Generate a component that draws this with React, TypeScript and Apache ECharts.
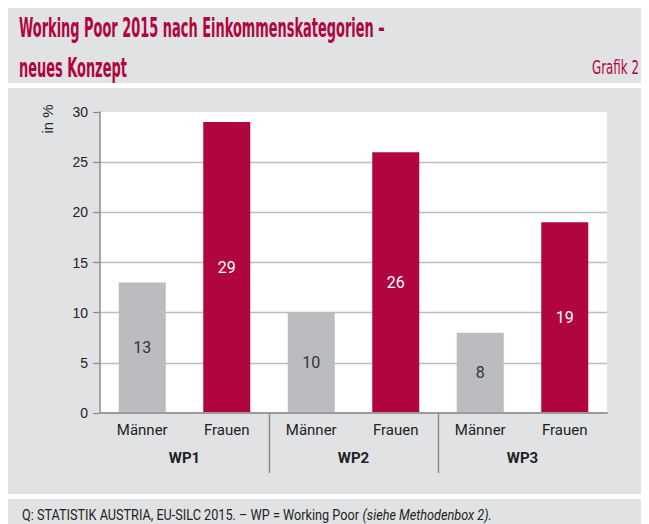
import React, { useEffect, useRef } from "react";
import * as echarts from "echarts";

const groups = ["WP1", "WP2", "WP3"];
const sexes = ["Männer", "Frauen"];
const maenner = [13, 10, 8];
const frauen = [29, 26, 19];
const yTicks = { min: 0, max: 30, interval: 5 };

const titleLines = ["Working Poor 2015 nach Einkommenskategorien –", "neues Konzept"];
const grafikLabel = "Grafik 2";
const sourceMain = "Q: STATISTIK AUSTRIA, EU-SILC 2015. – WP = Working Poor ";
const sourceItalic = "(siehe Methodenbox 2).";
const yName = "in %";

const PANEL = "#e1e2e4";
const CRIMSON = "#b0053f";
const GREY_BAR = "#bbbcc0";
const COND = "'DejaVu Sans Condensed', sans-serif";
const LABEL = "Roboto, 'Liberation Sans', sans-serif";
const SANS = "'Liberation Sans', Arial, sans-serif";

function measure(text: string, font: string): number {
  const c = document.createElement("canvas");
  const ctx = c.getContext("2d")!;
  ctx.font = font;
  return ctx.measureText(text).width;
}

export default function App() {
  const ref = useRef<HTMLDivElement>(null);
  useEffect(() => {
    if (!ref.current) return;
    const chart = echarts.init(ref.current, null, { renderer: "svg" });

    const categories: string[] = [];
    const values: any[] = [];
    groups.forEach((g, i) => {
      sexes.forEach((s, j) => {
        categories.push(g + "|" + s);
        const v = j === 0 ? maenner[i] : frauen[i];
        values.push({
          value: v,
          itemStyle: { color: j === 0 ? GREY_BAR : CRIMSON },
          label: { color: j === 0 ? "#333" : "#fff" },
        });
      });
    });

    chart.setOption({
      animation: false,
      grid: {
        left: 92,
        right: 42,
        top: 104,
        bottom: 111,
        show: true,
        backgroundColor: "#fff",
        borderWidth: 0,
        containLabel: false,
        outerBoundsMode: "none",
      },
      xAxis: [
        {
          type: "category",
          data: categories,
          position: "bottom",
          axisLine: { show: true, lineStyle: { color: "#9a9a9a", width: 2 } },
          axisTick: { show: false },
          axisLabel: {
            formatter: (v: string) => v.split("|")[1],
            fontFamily: LABEL,
            fontSize: 15,
            color: "#222",
            margin: 9,
          },
          splitLine: { show: false },
          z: 5,
        },
        {
          type: "category",
          data: groups,
          position: "bottom",
          offset: 28,
          axisLine: { show: false },
          axisTick: { show: false },
          axisLabel: {
            fontFamily: LABEL,
            fontSize: 15,
            fontWeight: "bold",
            color: "#222",
            margin: 9,
          },
          splitLine: { show: false },
        },
      ],
      yAxis: {
        type: "value",
        min: yTicks.min,
        max: yTicks.max,
        interval: yTicks.interval,
        axisLine: { show: true, lineStyle: { color: "#8c8c8c", width: 1.5 } },
        axisTick: { show: true, length: 7, lineStyle: { color: "#8c8c8c", width: 1.2 } },
        axisLabel: { fontFamily: SANS, fontSize: 14, color: "#222", margin: 12 },
        splitLine: {
          show: true,
          showMaxLine: false,
          showMinLine: false,
          lineStyle: { color: "#bdbdbd", width: 1.3 },
        },
      },
      series: [
        {
          type: "bar",
          xAxisIndex: 0,
          data: values,
          barWidth: 47,
          label: {
            show: true,
            position: "inside",
            fontFamily: LABEL,
            fontSize: 16,
          },
        },
      ],
    });

    // separators between the groups, located via the axis scale
    const yTop = chart.convertToPixel({ yAxisIndex: 0 }, 0) as number;
    const seps: any[] = [];
    for (let g = 1; g < groups.length; g++) {
      const a = chart.convertToPixel({ xAxisIndex: 0 }, g * sexes.length - 1) as number;
      const b = chart.convertToPixel({ xAxisIndex: 0 }, g * sexes.length) as number;
      const x = Math.round((a + b) / 2) + 0.5;
      seps.push({
        type: "line",
        shape: { x1: x, y1: yTop, x2: x, y2: yTop + 60 },
        style: { stroke: "#8c8c8c", lineWidth: 1.5 },
        silent: true,
        z: 10,
      });
    }

    const titleFont = `bold 26px ${COND}`;
    const tw = measure(titleLines[0], titleFont);
    const titleScale = 366 / tw;
    const grafFont = `19px ${COND}`;
    const gw = measure(grafikLabel, grafFont);
    const grafScale = 47 / gw;
    const srcFontN = `15px ${LABEL}`;
    const srcFontI = `italic 15px ${LABEL}`;
    const sw = measure(sourceMain, srcFontN) + measure(sourceItalic, srcFontI);
    const srcScale = 470 / sw;

    chart.setOption({
      graphic: [
        { type: "rect", z: -10, silent: true, shape: { x: 0, y: 0, width: 641, height: 75 }, style: { fill: PANEL } },
        { type: "rect", z: -10, silent: true, shape: { x: 0, y: 80, width: 641, height: 406 }, style: { fill: PANEL } },
        { type: "rect", z: -10, silent: true, shape: { x: 0, y: 491, width: 641, height: 40 }, style: { fill: PANEL } },
        {
          type: "text", x: 11, y: 20, scaleX: titleScale, silent: true,
          style: { text: titleLines[0], font: titleFont, fill: CRIMSON, verticalAlign: "middle", align: "left" },
        },
        {
          type: "text", x: 11, y: 60, scaleX: titleScale, silent: true,
          style: { text: titleLines[1], font: titleFont, fill: CRIMSON, verticalAlign: "middle", align: "left" },
        },
        {
          type: "text", x: 631, y: 59.5, scaleX: grafScale, silent: true,
          style: { text: grafikLabel, font: grafFont, fill: CRIMSON, verticalAlign: "middle", align: "right" },
        },
        {
          type: "text", x: 39, y: 111, rotation: Math.PI / 2, silent: true,
          style: { text: yName, font: `15px ${SANS}`, fill: "#222", verticalAlign: "middle", align: "center" },
        },
        {
          type: "text", x: 14, y: 507, scaleX: srcScale, silent: true,
          style: {
            text: "{n|" + sourceMain + "}{i|" + sourceItalic + "}",
            verticalAlign: "middle",
            align: "left",
            rich: {
              n: { fontFamily: LABEL, fontSize: 15, fill: "#222", color: "#222" },
              i: { fontFamily: LABEL, fontSize: 15, fontStyle: "italic", fill: "#222", color: "#222" },
            },
          },
        },
        ...seps,
      ],
    });

    return () => chart.dispose();
  }, []);

  return <div ref={ref} style={{ width: 641, height: 516 }} />;
}
